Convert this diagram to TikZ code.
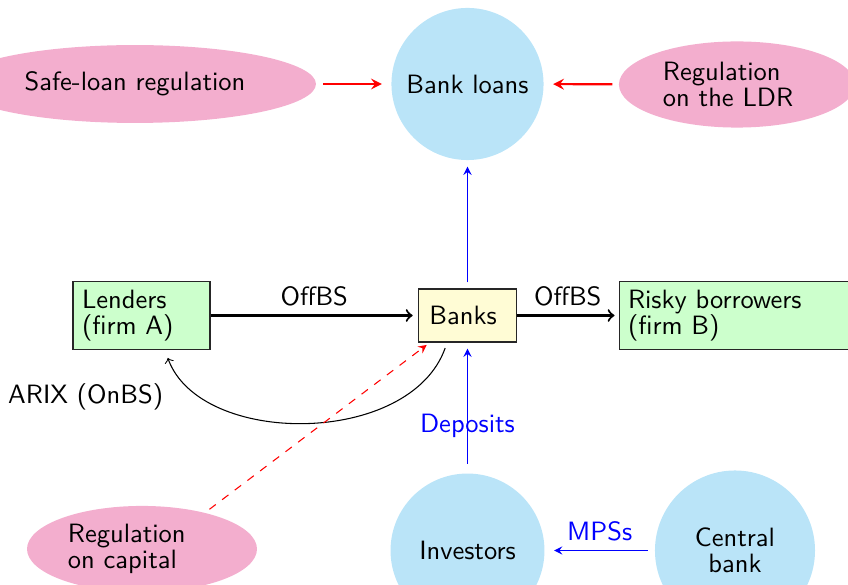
\documentclass[tikz,border=0pt]{standalone}
\usetikzlibrary{shapes.geometric,arrows}
\definecolor{pinkc}{RGB}{243,174,206}
\definecolor{bluec}{RGB}{186,228,248}
\definecolor{greenc}{RGB}{204,255,204}
\definecolor{yellowc}{RGB}{255,252,213}
\begin{document}
\begin{tikzpicture}[x=0.3774pt,y=-0.3774pt,
  every node/.style={font=\fontsize{10pt}{9.8pt}\selectfont\sffamily},
  pinknode/.style={ellipse, fill=pinkc, inner sep=0pt},
  bluecirc/.style={circle, fill=bluec, inner sep=0pt, align=center},
  greenbox/.style={rectangle, draw=black!85, fill=greenc, align=left, inner xsep=3.4pt, minimum height=26pt},
  yellowbox/.style={rectangle, draw=black!85, fill=yellowc, align=left, inner xsep=4.15pt, minimum height=20pt, text width=28.7pt},
  blackarrow/.style={->, thick},
  redarrow/.style={-stealth, thick, red},
  reddash/.style={-stealth, red, dashed},
  bluearrow/.style={-stealth, blue},
  curvearrow/.style={->, black},
  bluelabel/.style={text=blue}
]
\useasboundingbox (0,0) rectangle (848,585);
\clip (0,0) rectangle (848,585);

% nodes
\node[pinknode, minimum width=136.6pt, minimum height=29.4pt] (safe) at (135,84) {Safe-loan regulation};
\node[bluecirc, minimum size=57.4pt] (bankloans) at (467.5,84) {Bank loans};
\node[pinknode, minimum width=89.1pt, minimum height=32.5pt, text width=55.9pt, align=left] (ldr) at (737,84.5) {Regulation\\on the LDR};

\node[greenbox, text width=44.9pt] (lenders) at (141.5,315.5) {Lenders\\(firm A)};
\node[yellowbox] (banks) at (467.5,315.5) {Banks};
\node[greenbox, text width=87.9pt] (risky) at (744.5,315.5) {Risky borrowers\\(firm B)};

\node[pinknode, minimum width=86.8pt, minimum height=32.5pt, text width=55.9pt, align=left] (capital) at (142,549) {Regulation\\on capital};
\node[bluecirc, minimum size=58.1pt] (investors) at (467.5,550.5) {Investors};
\node[bluecirc, minimum size=60.4pt] (central) at (735,550.5) {Central\\bank};

% connectors
\draw[redarrow, shorten <=2.6pt, shorten >=3.4pt] (safe) -- (bankloans);
\draw[redarrow, shorten <=2.3pt, shorten >=3.4pt] (ldr) -- (bankloans);
\draw[bluearrow, shorten <=2.3pt, shorten >=2.3pt] (banks) -- (bankloans);

\draw[blackarrow, shorten >=2pt] (lenders) -- node[above] {OffBS} (banks);
\draw[blackarrow, shorten >=1.5pt] (banks) -- node[above] {OffBS} (risky);

\draw[curvearrow, shorten <=2.2pt, shorten >=3pt] (banks.233) .. controls (410,447) and (200,447) .. ([xshift=8.9pt]lenders.south)
  node[pos=0.8, left=12pt] {ARIX (OnBS)};

\draw[reddash, shorten <=2pt, shorten >=1.5pt] (capital.30) -- ([xshift=4.5pt]banks.south west);

\draw[bluearrow, shorten <=3.4pt, shorten >=2.3pt] (investors) -- node[pos=0.36, bluelabel] {Deposits} (banks);
\draw[bluearrow, shorten <=2.6pt, shorten >=3.4pt] (central) -- node[above, bluelabel] {MPSs} (investors);
\end{tikzpicture}
\end{document}
